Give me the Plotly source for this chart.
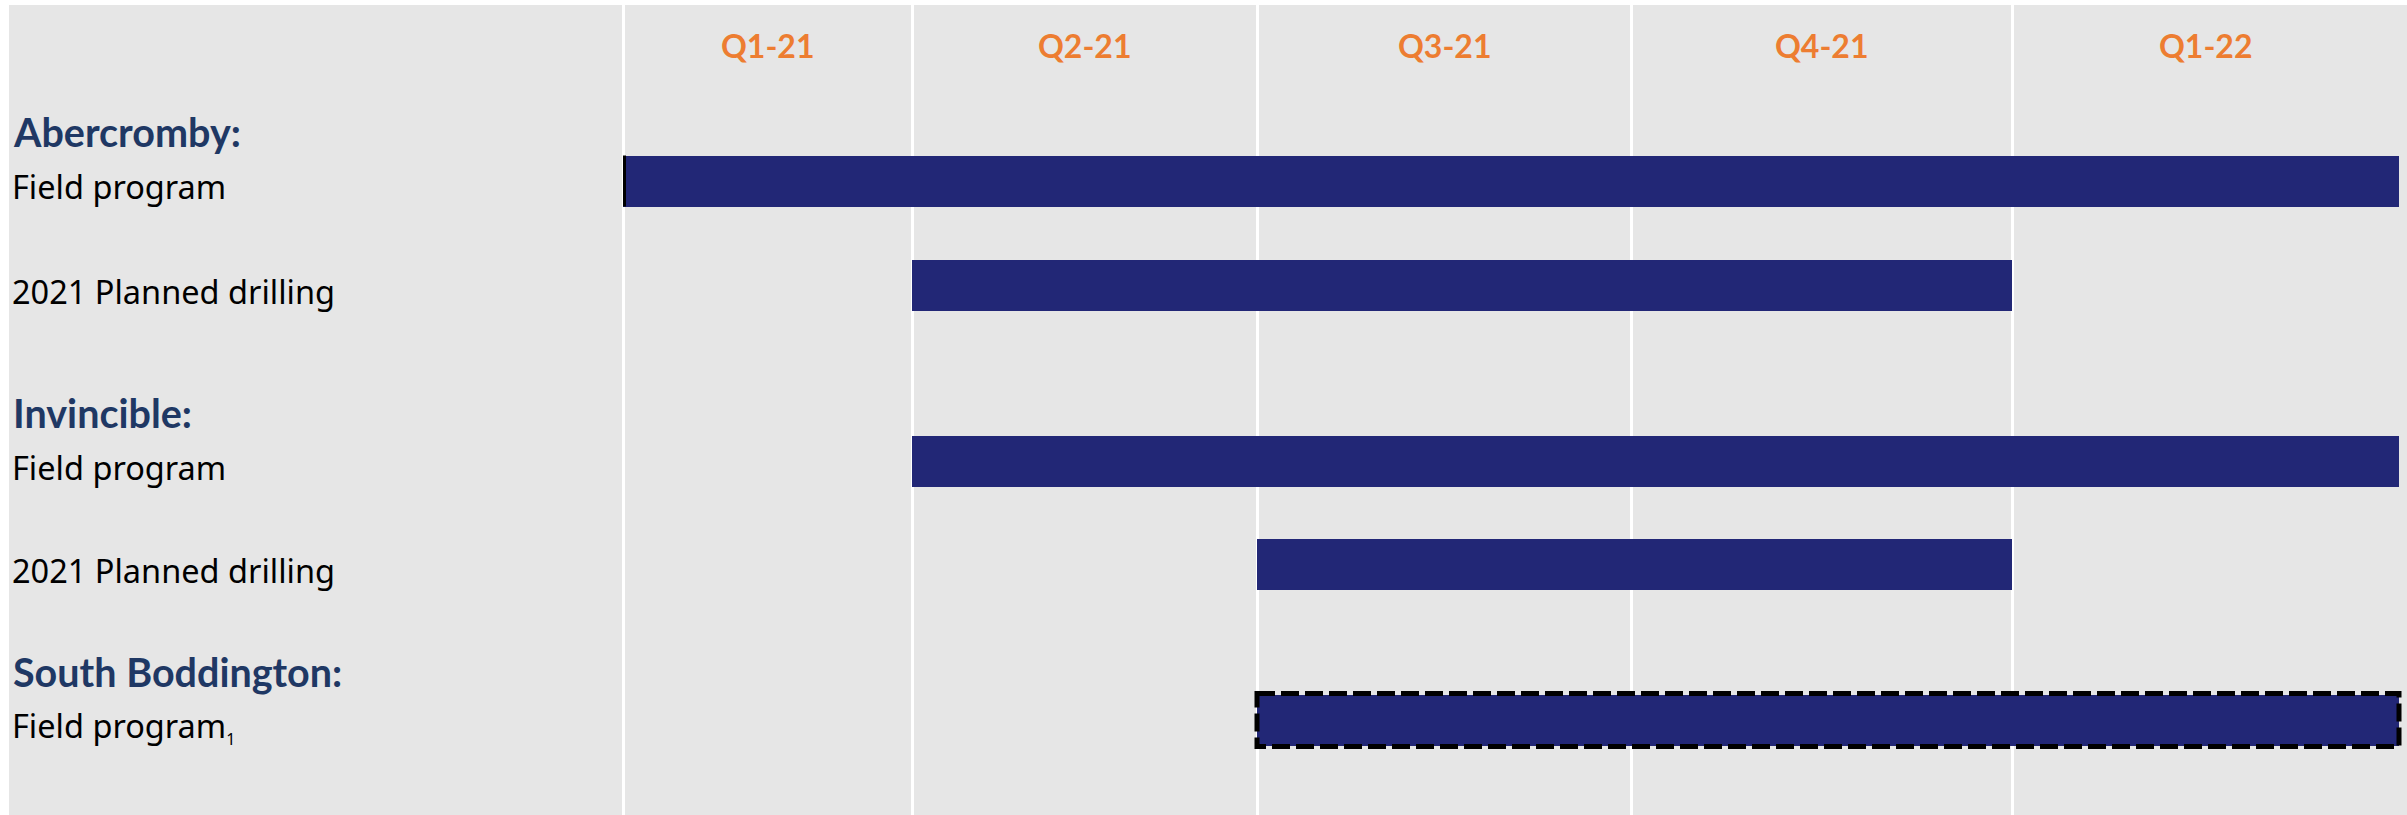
import plotly.graph_objects as go

# ---------------- data ----------------
quarters = ["Q1-21", "Q2-21", "Q3-21", "Q4-21", "Q1-22"]
groups = ["Abercromby:", "Invincible:", "South Boddington:"]
task_group = [0, 0, 1, 1, 2]
task_labels = ["Field program", "2021 Planned drilling", "Field program",
               "2021 Planned drilling",
               "Field program<sub><span style='font-size:16px'>1</span></sub>"]
task_start_q = [0, 1, 1, 2, 2]   # first quarter index
task_end_q = [5, 4, 5, 4, 5]     # quarter edge index where the bar ends
task_dashed = [False, False, False, False, True]

# ---------------- layout / geometry ----------------
W, H = 2407, 815
LEFT, TOP = 9, 5
LABEL_W = 614
QUARTER_W = [289, 345, 374, 381, 387]
HEADER_Y = 46
GROUP_Y = [132, 412, 671]
TASK_Y = [181, 285, 461.5, 564.5, 720]
BAR_H = 51

BG = "#E6E6E6"
BAR_COLOR = "#222776"
GROUP_COLOR = "#1F3864"
Q_COLOR = "#ED7D31"

edges = [LEFT + LABEL_W]
for w in QUARTER_W:
    edges.append(edges[-1] + w)
centers = [(edges[i] + edges[i + 1]) / 2 for i in range(len(quarters))]

bar_base = [edges[s] for s in task_start_q]
bar_len = [edges[e] - edges[s] for s, e in zip(task_start_q, task_end_q)]

fig = go.Figure()
fig.add_trace(go.Bar(
    orientation="h",
    y=TASK_Y,
    x=bar_len,
    base=bar_base,
    width=BAR_H,
    marker=dict(color=BAR_COLOR, line=dict(width=0)),
    hoverinfo="skip",
    showlegend=False,
))

annotations = []
for q, cx in zip(quarters, centers):
    annotations.append(dict(
        x=cx, y=HEADER_Y, xref="x", yref="y", text=q, showarrow=False,
        xanchor="center", yanchor="middle",
        font=dict(family="Lato", size=32, color=Q_COLOR, weight=700)))
for g, gy in zip(groups, GROUP_Y):
    annotations.append(dict(
        x=LEFT + 2, y=gy, xref="x", yref="y", text=g, showarrow=False,
        xanchor="left", yanchor="middle",
        font=dict(family="Lato", size=39.5, color=GROUP_COLOR, weight=700)))
for lab, ty in zip(task_labels, TASK_Y):
    annotations.append(dict(
        x=LEFT + 1, y=ty, xref="x", yref="y", text=lab, showarrow=False,
        xanchor="left", yanchor="middle", yshift=-6,
        font=dict(family="Noto Sans", size=32.5, color="#000000")))

shapes = []
for i, d in enumerate(task_dashed):
    if d:
        shapes.append(dict(
            type="rect", xref="x", yref="y",
            x0=bar_base[i], x1=bar_base[i] + bar_len[i],
            y0=TASK_Y[i] - BAR_H / 2 - 1, y1=TASK_Y[i] + BAR_H / 2 + 1,
            line=dict(color="#000000", width=5, dash="18px,6px"),
            fillcolor="rgba(0,0,0,0)", layer="above"))
# thin dark rule on the left end of the first bar
shapes.append(dict(
    type="line", xref="x", yref="y",
    x0=bar_base[0] + 1.5, x1=bar_base[0] + 1.5,
    y0=TASK_Y[0] - BAR_H / 2, y1=TASK_Y[0] + BAR_H / 2,
    line=dict(color="#000000", width=3), layer="above"))

fig.update_layout(
    width=W, height=H,
    margin=dict(l=0, r=0, t=0, b=0),
    paper_bgcolor="#FFFFFF",
    plot_bgcolor=BG,
    xaxis=dict(range=[LEFT, W], domain=[LEFT / W, 1], tickvals=edges[:-1],
               showgrid=True, gridcolor="#FFFFFF", gridwidth=3,
               showticklabels=False, ticks="", zeroline=False,
               showline=False, fixedrange=True),
    yaxis=dict(range=[H, TOP], domain=[0, 1 - TOP / H], showgrid=False,
               showticklabels=False, ticks="", zeroline=False,
               showline=False, fixedrange=True),
    annotations=annotations,
    shapes=shapes,
    bargap=0,
)

fig.write_html(
    "out.html",
    config={"displayModeBar": False},
    post_script="document.body.style.margin='0';document.body.style.overflow='hidden';",
)
